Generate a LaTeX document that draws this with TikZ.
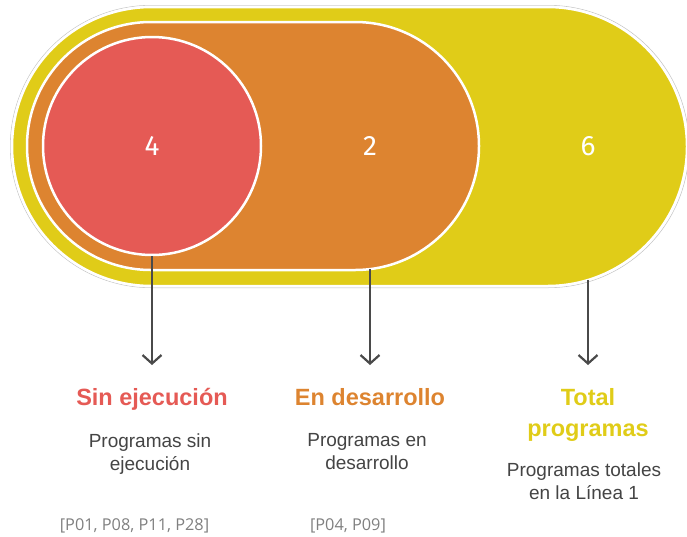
\documentclass[tikz,border=0pt]{standalone}
\usepackage{fontspec}
\setmainfont{Liberation Sans}
\newfontfamily\numfont{Fira Sans}
\newfontfamily\reffont{Open Sans}
\usetikzlibrary{arrows.meta}
\definecolor{cyel}{HTML}{E0CC18}
\definecolor{cora}{HTML}{DD8430}
\definecolor{cred}{HTML}{E55A55}
\definecolor{ctxt}{HTML}{444444}
\definecolor{cref}{HTML}{808080}
\definecolor{carr}{HTML}{4A4A4A}
\tikzset{
  region/.style={draw=white, line width=2.5pt, inner sep=0pt},
  num/.style={text=white, font=\numfont\fontsize{28}{32}\selectfont, inner sep=0pt},
  title/.style={font=\bfseries\fontsize{23.5}{31}\selectfont, align=center, inner sep=0pt},
  desc/.style={text=ctxt, font=\fontsize{19}{23}\selectfont, align=center, anchor=north, inner sep=0pt},
  refs/.style={text=cref, font=\reffont\fontsize{16.3}{18}\selectfont, anchor=base, inner sep=0pt},
  arr/.style={draw=carr, line width=2.2pt, -{Straight Barb[length=8.5pt,width=19pt,line width=2.2pt]}},
}
\begin{document}
\begin{tikzpicture}[x=1pt,y=-1pt]
\useasboundingbox (0,0) rectangle (687,536);
% outer faint outline
\draw[black!22, line width=0.6pt, rounded corners=141pt] (10.3,5.3) rectangle (689,287.7);
% regions
\node[region, fill=cyel, rounded corners=139.5pt, minimum width=675pt, minimum height=279pt] (tot) at (349.5,146.5) {};
\node[region, fill=cora, rounded corners=124pt, minimum width=452pt, minimum height=248pt] (des) at (253,146) {};
\node[region, fill=cred, circle, minimum size=218pt] (sin) at (152,146) {};
% numbers
\node[num] (n4) at (152,146) {4};
\node[num] (n2) at (370,146) {2};
\node[num] (n6) at (588,146) {6};
% arrow endpoints
\coordinate (a1) at (sin.south);
\coordinate (a2) at (370,269);
\coordinate (a3) at (588,280);
\coordinate (e1) at (152,365);
\coordinate (e2) at (370,365);
\coordinate (e3) at (588,365);
\draw[arr] (a1) -- (e1);
\draw[arr] (a2) -- (e2);
\draw[arr] (a3) -- (e3);
% titles
\node[title, text=cred, anchor=base] (t1) at (152,405) {Sin ejecución};
\node[title, text=cora, anchor=base] (t2) at (370,405) {En desarrollo};
\node[title, text=cyel, anchor=north] (t3) at (588,388.2) {Total\\programas};
% descriptions
\node[desc] (d1) at (150,433.4) {Programas sin\\ejecución};
\node[desc] (d2) at (367,433.4) {Programas en\\desarrollo};
\node[desc] (d3) at (584,462.4) {Programas totales\\en la Línea 1};
% references
\node[refs] (r1) at (134.5,530) {[P01, P08, P11, P28]};
\node[refs] (r2) at (348,530) {[P04, P09]};
\end{tikzpicture}
\end{document}
